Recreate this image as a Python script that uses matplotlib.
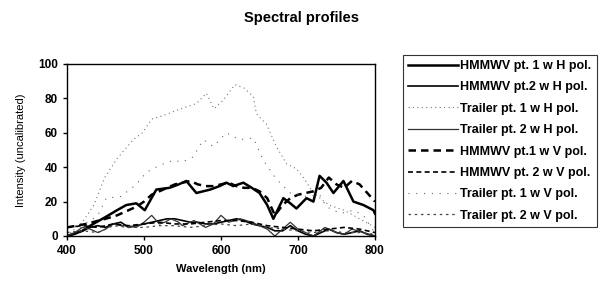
import matplotlib
matplotlib.use("Agg")
import matplotlib.pyplot as plt

plt.rcParams['font.family'] = ['Liberation Sans', 'DejaVu Sans']

title = "Spectral profiles"
xlabel = "Wavelength (nm)"
ylabel = "Intensity (uncalibrated)"

# HMMWV pt. 1 w H pol.
h1h_x = [400, 420, 434, 450, 465, 477, 490, 501, 516, 533, 545, 555, 568, 586, 598, 607, 616, 629, 640, 650, 660, 668, 681, 690, 698, 711, 720, 728, 737, 746, 759, 772, 785, 798, 800]
h1h_y = [0, 3, 7, 11, 15, 18, 19, 15, 27, 28, 30, 32, 25, 27, 29, 31, 29, 31, 28, 25, 18, 10, 22, 19, 16, 22, 20, 35, 31, 25, 32, 20, 18, 15, 13]
# HMMWV pt.2 w H pol.
h2h_x = [400, 410, 420, 430, 440, 450, 460, 470, 480, 490, 500, 510, 520, 530, 540, 550, 560, 570, 580, 590, 600, 610, 620, 630, 640, 650, 660, 670, 680, 690, 700, 710, 720, 730, 740, 750, 760, 770, 780, 790, 800]
h2h_y = [0, 1, 3, 5, 6, 5, 7, 8, 5, 6, 7, 8, 9, 10, 10, 9, 8, 8, 7, 7, 8, 9, 10, 9, 7, 6, 5, 3, 3, 6, 3, 1, 0, 2, 4, 2, 1, 2, 3, 1, 0]
# Trailer pt. 1 w H pol.
t1h_x = [400, 420, 435, 449, 465, 486, 498, 510, 525, 542, 555, 568, 581, 591, 603, 618, 630, 642, 646, 659, 672, 685, 698, 707, 720, 740, 760, 780, 800]
t1h_y = [0, 8, 18, 34, 45, 56, 60, 68, 70, 73, 75, 77, 83, 74, 79, 88, 86, 81, 71, 65, 52, 42, 39, 34, 25, 18, 15, 10, 5]
# Trailer pt. 2 w H pol.
t2h_x = [400, 410, 420, 430, 440, 450, 460, 470, 480, 490, 500, 510, 520, 527, 535, 545, 550, 565, 580, 590, 600, 610, 625, 640, 650, 660, 670, 680, 690, 700, 710, 720, 735, 750, 760, 770, 785, 800]
t2h_y = [0, 2, 5, 4, 2, 4, 7, 6, 6, 5, 8, 12, 7, 8, 10, 8, 6, 9, 5, 7, 12, 8, 10, 8, 6, 4, 0, 4, 8, 4, 2, 0, 5, 2, 1, 4, 2, 0]
# HMMWV pt.1 w V pol.
h1v_x = [400, 425, 450, 465, 480, 490, 500, 510, 520, 530, 540, 550, 560, 570, 580, 590, 600, 610, 620, 630, 640, 650, 660, 670, 680, 690, 700, 710, 720, 730, 740, 750, 760, 770, 780, 790, 800]
h1v_y = [5, 7, 10, 12, 15, 17, 20, 24, 26, 28, 30, 31, 32, 30, 29, 29, 30, 31, 29, 28, 28, 26, 22, 12, 18, 22, 24, 25, 26, 28, 34, 30, 28, 32, 30, 25, 20]
# HMMWV pt. 2 w V pol.
h2v_x = [400, 420, 440, 460, 480, 500, 520, 540, 560, 580, 600, 620, 640, 660, 680, 700, 720, 740, 760, 780, 800]
h2v_y = [5, 6, 5, 7, 6, 7, 8, 7, 7, 8, 9, 9, 8, 6, 5, 4, 3, 4, 5, 4, 2]
# Trailer pt. 1 w V pol.
t1v_x = [400, 420, 440, 451, 470, 490, 503, 520, 538, 550, 564, 577, 590, 607, 624, 642, 655, 672, 690, 711, 728, 737, 755, 772, 785, 798, 800]
t1v_y = [0, 6, 12, 22, 23, 30, 37, 41, 44, 43, 46, 56, 52, 60, 56, 57, 44, 33, 25, 23, 24, 17, 13, 15, 12, 3, 2]
# Trailer pt. 2 w V pol.
t2v_x = [400, 420, 440, 460, 480, 500, 520, 540, 560, 580, 600, 620, 640, 660, 680, 700, 720, 740, 760, 780, 800]
t2v_y = [2, 3, 2, 6, 5, 5, 6, 6, 5, 6, 7, 6, 7, 5, 4, 3, 2, 3, 2, 2, 1]

labels = ["HMMWV pt. 1 w H pol.", "HMMWV pt.2 w H pol.", "Trailer pt. 1 w H pol.",
          "Trailer pt. 2 w H pol.", "HMMWV pt.1 w V pol.", "HMMWV pt. 2 w V pol.",
          "Trailer pt. 1 w V pol.", "Trailer pt. 2 w V pol."]
xticks = [400, 500, 600, 700, 800]
yticks = [0, 20, 40, 60, 80, 100]

fig = plt.figure(figsize=(6.03, 2.92), dpi=100)
ax = fig.add_axes([67/603, 56/292, 308/603, 172/292])

series = [
    (h1h_x, h1h_y, dict(color='black', lw=1.8, ls='-')),
    (h2h_x, h2h_y, dict(color='black', lw=1.2, ls='-')),
    (t1h_x, t1h_y, dict(color='#777777', lw=0.8, ls=(0, (1, 3)))),
    (t2h_x, t2h_y, dict(color='#333333', lw=0.9, ls='-')),
    (h1v_x, h1v_y, dict(color='black', lw=1.8, ls=(0, (3, 2)))),
    (h2v_x, h2v_y, dict(color='black', lw=1.2, ls=(0, (3, 2)))),
    (t1v_x, t1v_y, dict(color='#666666', lw=0.8, ls=(0, (1, 6)))),
    (t2v_x, t2v_y, dict(color='#444444', lw=0.9, ls=(0, (2, 3)))),
]
for (x, y, st), lab in zip(series, labels):
    ax.plot(x, y, label=lab, **st)

ax.set_xlim(400, 800)
ax.set_ylim(0, 100)
ax.set_xticks(xticks)
ax.set_yticks(yticks)
ax.tick_params(direction='out', length=3, width=1, labelsize=8.5)
for lbl in ax.get_xticklabels() + ax.get_yticklabels():
    lbl.set_fontweight('bold')
for sp in ax.spines.values():
    sp.set_linewidth(1.0)

ax.set_xlabel(xlabel, fontsize=8, fontweight='bold', labelpad=5)
ax.set_ylabel(ylabel, fontsize=8, labelpad=9)
fig.text(0.5, 1 - 18/292, title, ha='center', va='center', fontsize=10.5, fontweight='bold')

leg = ax.legend(loc='upper left', bbox_to_anchor=(403/603, 1 - 55/292),
                bbox_transform=fig.transFigure, frameon=True,
                fancybox=False, edgecolor='black', handlelength=4.0,
                labelspacing=0.75, borderpad=0.4, handletextpad=0.2,
                borderaxespad=0.0,
                prop={'weight': 'bold', 'size': 9})
leg.get_frame().set_linewidth(0.8)

fig.savefig("out.png", dpi=100)
